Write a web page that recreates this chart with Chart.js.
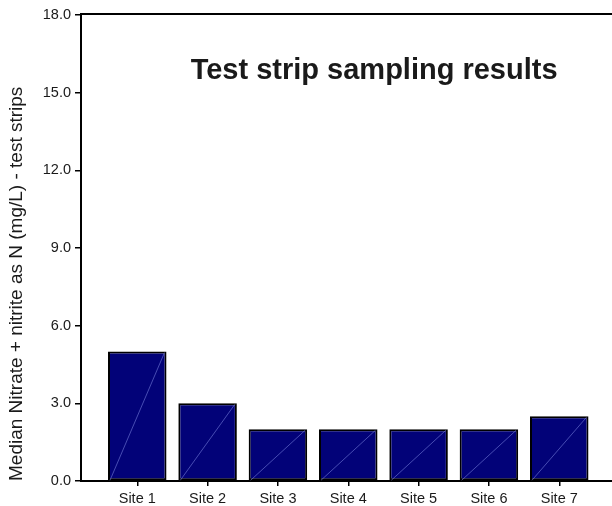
<!DOCTYPE html>
<html>
<head>
<meta charset="utf-8">
<script src="https://cdn.jsdelivr.net/npm/chart.js@4"></script>
<style>
  html, body { margin: 0; padding: 0; background: #fff; }
  #chart { display: block; }
</style>
</head>
<body>
<canvas id="chart" width="612" height="506"></canvas>
<script>
// Test strip sampling results - median nitrate + nitrite per site

const sites = ['Site 1', 'Site 2', 'Site 3', 'Site 4', 'Site 5', 'Site 6', 'Site 7'];
const medianNitrate = [5.0, 3.0, 2.0, 2.0, 2.0, 2.0, 2.5];
const yTicks = [0, 3, 6, 9, 12, 15, 18];

const FONT = '"Liberation Sans", Arial, sans-serif';

// bars sit on a linear x scale so the axis can run past the last bar
const barPoints = medianNitrate.map((v, i) => ({ x: i + 1, y: v }));

// top frame line, diagonal stroke in each bar, title inside the plot
const extrasPlugin = {
    id: 'extras',
    afterDatasetsDraw(chart) {
        const ctx = chart.ctx;
        const meta = chart.getDatasetMeta(0);
        ctx.save();
        ctx.strokeStyle = 'rgba(125,135,225,0.8)';
        ctx.lineWidth = 0.7;
        meta.data.forEach(bar => {
            const p = bar.getProps(['x', 'y', 'base', 'width'], true);
            ctx.beginPath();
            ctx.moveTo(p.x - p.width / 2 + 2, p.base);
            ctx.lineTo(p.x + p.width / 2 - 2, p.y + 1);
            ctx.stroke();
        });
        ctx.restore();
    },
    afterDraw(chart) {
        const ctx = chart.ctx;
        const area = chart.chartArea;
        ctx.save();
        ctx.strokeStyle = '#000';
        ctx.lineWidth = 2;
        ctx.beginPath();
        ctx.moveTo(area.left - 1, area.top - 1);
        ctx.lineTo(area.right, area.top - 1);
        ctx.stroke();

        ctx.fillStyle = '#1a1a1a';
        ctx.font = 'bold 29px ' + FONT;
        ctx.textAlign = 'center';
        ctx.textBaseline = 'alphabetic';
        ctx.fillText('Test strip sampling results', area.left + 0.552 * (area.right - area.left), area.top + 64);
        ctx.restore();
    }
};

const ctx = document.getElementById('chart').getContext('2d');
new Chart(ctx, {
    type: 'bar',
    data: {
        datasets: [{
            data: barPoints,
            backgroundColor: '#020278',
            borderColor: '#000',
            borderWidth: 2,
            borderSkipped: false,
            barPercentage: 0.832,
            categoryPercentage: 1.0
        }]
    },
    options: {
        responsive: false,
        animation: false,
        layout: { padding: { top: 15, right: 0, bottom: 0, left: 0 } },
        plugins: {
            legend: { display: false },
            tooltip: { enabled: false }
        },
        scales: {
            x: {
                type: 'linear',
                offset: false,
                min: 0.2,
                max: 7.75,
                afterBuildTicks(scale) {
                    scale.ticks = sites.map((s, i) => ({ value: i + 1 }));
                },
                afterFit(scale) { scale.height = 25; },
                ticks: {
                    autoSkip: false,
                    maxRotation: 0,
                    padding: 4,
                    color: '#1a1a1a',
                    font: { family: FONT, size: 14.5 },
                    callback: v => sites[v - 1]
                },
                grid: {
                    offset: false,
                    drawOnChartArea: false,
                    drawTicks: true,
                    tickLength: 5,
                    color: '#000',
                    lineWidth: 1.5
                },
                border: { display: true, color: '#000', width: 2 }
            },
            y: {
                min: 0,
                max: 18,
                afterBuildTicks(scale) {
                    scale.ticks = yTicks.map(v => ({ value: v }));
                },
                afterFit(scale) { scale.width = 81; },
                ticks: {
                    padding: 4,
                    color: '#1a1a1a',
                    font: { family: FONT, size: 14.5 },
                    callback: v => v.toFixed(1)
                },
                grid: {
                    drawOnChartArea: false,
                    drawTicks: true,
                    tickLength: 6,
                    color: '#000',
                    lineWidth: 1.5
                },
                border: { display: true, color: '#000', width: 2 },
                title: {
                    display: true,
                    align: 'start',
                    text: 'Median Nitrate + nitrite as N (mg/L) - test strips',
                    color: '#1a1a1a',
                    font: { family: FONT, size: 19 },
                    padding: { top: 5, bottom: 0 }
                }
            }
        }
    },
    plugins: [extrasPlugin]
});
</script>
</body>
</html>
